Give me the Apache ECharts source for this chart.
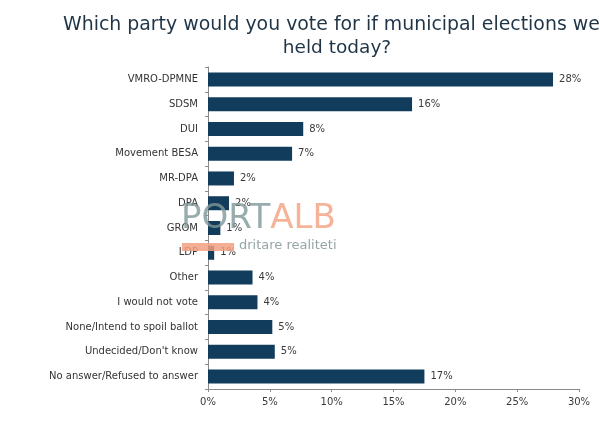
<!DOCTYPE html>
<html>
<head>
<meta charset="utf-8">
<script src="https://cdn.jsdelivr.net/npm/echarts@6/dist/echarts.min.js"></script>
<style>
  html, body { margin: 0; padding: 0; background: #fff; }
  #chart { width: 600px; height: 421px; }
</style>
</head>
<body>
<div id="chart"></div>
<script>
// categories, top to bottom
var parties = ['VMRO-DPMNE', 'SDSM', 'DUI', 'Movement BESA', 'MR-DPA', 'DPA', 'GROM', 'LDP',
    'Other', 'I would not vote', 'None/Intend to spoil ballot', 'Undecided/Don\'t know', 'No answer/Refused to answer'];
// bar lengths (%)
var shares = [27.9, 16.5, 7.7, 6.8, 2.1, 1.7, 1.0, 0.5, 3.6, 4.0, 5.2, 5.4, 17.5];
// printed labels
var shareLabels = ['28%', '16%', '8%', '7%', '2%', '2%', '1%', '1%', '4%', '4%', '5%', '5%', '17%'];
var xTicks = [0, 5, 10, 15, 20, 25, 30];

var myChart = echarts.init(document.getElementById('chart'));
var font = 'DejaVu Sans';

var option = {
    animation: false,
    title: [{
        text: 'Which party would you vote for if municipal elections were',
        left: 58, top: 11,
        textStyle: { fontFamily: font, fontSize: 18.9, fontWeight: 'normal', color: '#1f3547' }
    }, {
        text: 'held today?',
        left: 332, top: 34, textAlign: 'center',
        textStyle: { fontFamily: font, fontSize: 18.5, fontWeight: 'normal', color: '#1f3547' }
    }],
    grid: { left: 208, right: 21, top: 67, bottom: 32, containLabel: false },
    xAxis: {
        type: 'value',
        min: xTicks[0], max: xTicks[xTicks.length - 1], interval: 5,
        axisLine: { show: true, lineStyle: { color: '#8a8a8a' } },
        axisTick: { show: true, length: 3, lineStyle: { color: '#8a8a8a' } },
        splitLine: { show: false },
        axisLabel: { formatter: '{value}%', fontFamily: font, fontSize: 10, color: '#3a3a3a', margin: 8 }
    },
    yAxis: {
        type: 'category',
        inverse: true,
        data: parties,
        axisLine: { show: true, lineStyle: { color: '#8a8a8a' } },
        axisTick: { show: true, length: 3, lineStyle: { color: '#8a8a8a' } },
        axisLabel: { fontFamily: font, fontSize: 10, color: '#333', margin: 10 }
    },
    series: [{
        type: 'bar',
        data: shares,
        barWidth: 14,
        itemStyle: { color: '#113c5b' },
        label: {
            show: true,
            position: 'right',
            distance: 6,
            fontFamily: font, fontSize: 10, color: '#3a3a3a',
            formatter: function (p) { return shareLabels[p.dataIndex]; }
        }
    }],
    // PORTALB watermark over the plot
    graphic: [{
        type: 'rect', left: 182, top: 243, z: 100,
        shape: { width: 52, height: 8 },
        style: { fill: '#f2a080', opacity: 0.85 }
    }, {
        type: 'text', left: 181, top: 202, z: 100,
        style: {
            rich: {
                a: { fontFamily: font, fontSize: 34, fill: '#7f9799' },
                b: { fontFamily: font, fontSize: 34, fill: '#f2a080' }
            },
            text: '{a|PORT}{b|ALB}', opacity: 0.8
        }
    }, {
        type: 'text', left: 239, top: 239, z: 100,
        style: { text: 'dritare realiteti', fontFamily: font, fontSize: 13, fill: '#8a9a9c', opacity: 0.9 }
    }]
};

option && myChart.setOption(option);
</script>
</body>
</html>
